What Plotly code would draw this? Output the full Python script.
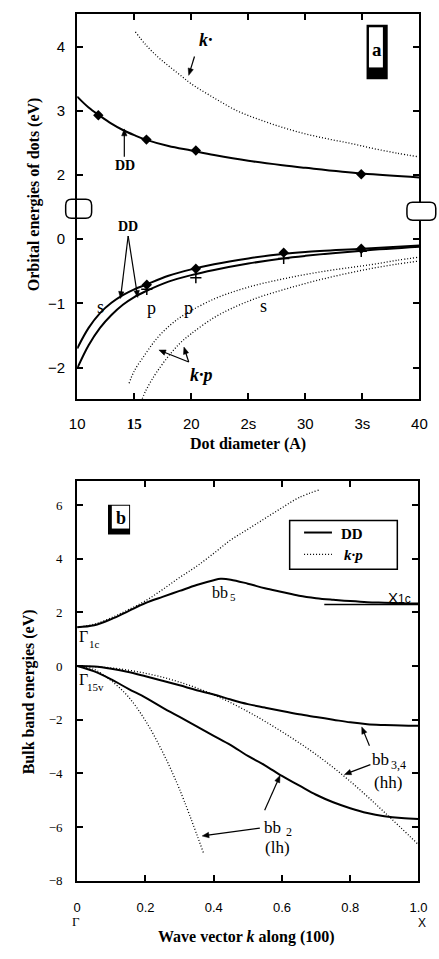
import math
import plotly.graph_objects as go

W, H = 439, 959
SERIF = "Liberation Serif, Times New Roman, serif"
SANS = "Liberation Sans Narrow, Liberation Sans, Arial, sans-serif"

# ---------------- Panel a data ----------------
a_x_ticks = [10, 15, 20, 25, 30, 35, 40]
a_x_ticktext = ["10", "<span style='font-family:Liberation Serif'><b>15</b></span>", "20", "2s", "30", "3s", "40"]

dd_cond_x = [10, 11, 12, 13, 14, 15, 16, 18, 20, 22, 25, 28, 30, 35, 40]
dd_cond_y = [3.22, 3.05, 2.92, 2.80, 2.70, 2.62, 2.55, 2.45, 2.38, 2.31, 2.22, 2.15, 2.11, 2.02, 1.96]
dd_cond_pts_x = [11.85, 16.07, 20.4, 34.9]
dd_cond_pts_y = [2.93, 2.55, 2.38, 2.01]

kp_cond_x = [15.1, 16, 17, 18, 19, 20, 22, 24, 26, 28, 30, 32, 34, 36, 38, 40]
kp_cond_y = [4.23, 4.03, 3.85, 3.70, 3.56, 3.42, 3.20, 3.00, 2.86, 2.74, 2.64, 2.56, 2.49, 2.41, 2.34, 2.28]

dd_s_x = [10, 11, 12, 13, 14, 15, 16, 18, 20, 22, 25, 28, 30, 35, 40]
dd_s_y = [-1.70, -1.38, -1.15, -0.99, -0.87, -0.78, -0.71, -0.57, -0.47, -0.39, -0.30, -0.23, -0.20, -0.15, -0.10]
dd_p_x = [10, 11, 12, 13, 14, 15, 16, 18, 20, 22, 25, 28, 30, 35, 40]
dd_p_y = [-2.01, -1.65, -1.38, -1.18, -1.02, -0.90, -0.81, -0.66, -0.56, -0.48, -0.38, -0.30, -0.26, -0.18, -0.12]
dd_s_pts_x = [16.1, 20.4, 28.1, 34.9]
dd_s_pts_y = [-0.71, -0.46, -0.21, -0.15]
dd_p_pts_x = [16.1, 20.4, 28.1, 34.9]
dd_p_pts_y = [-0.78, -0.60, -0.30, -0.19]

kp_a_x = [14.55, 15, 16, 17, 18, 19, 20, 22, 24, 26, 28, 30, 32, 34, 36, 38, 40]
kp_a_y = [-2.24, -2.05, -1.78, -1.54, -1.36, -1.22, -1.11, -0.93, -0.80, -0.70, -0.62, -0.55, -0.49, -0.44, -0.39, -0.33, -0.28]
kp_b_x = [15.7, 16, 16.5, 17, 18, 19, 20, 22, 24, 26, 28, 30, 32, 34, 36, 38, 40]
kp_b_y = [-2.48, -2.36, -2.20, -2.06, -1.82, -1.62, -1.47, -1.22, -1.04, -0.90, -0.79, -0.69, -0.60, -0.52, -0.45, -0.39, -0.34]

# ---------------- Panel b data ----------------
b_x_ticks = [0, 0.2, 0.4, 0.6, 0.8, 1.0]
b_x_ticktext = ["0", "0.2", "0.4", "0.6", "0.8", "1.0"]
b_y_ticks = [-8, -6, -4, -2, 0, 2, 4, 6]
legend_names = ["<b>DD</b>", "<b><i>k·p</i></b>"]

bb_dd_c_k = [0, 0.05, 0.1, 0.15, 0.2, 0.25, 0.3, 0.35, 0.4, 0.42, 0.45, 0.5, 0.55, 0.6, 0.65, 0.7, 0.75, 0.8, 0.85, 0.9, 0.95, 1.0]
bb_dd_c_e = [1.45, 1.52, 1.75, 2.05, 2.35, 2.58, 2.80, 3.02, 3.20, 3.25, 3.22, 3.07, 2.90, 2.76, 2.62, 2.53, 2.47, 2.42, 2.38, 2.36, 2.34, 2.33]
bb_dd_x1c_k = [0.724, 1.0]
bb_dd_x1c_e = [2.29, 2.29]
bb_kp_c_k = [0, 0.05, 0.1, 0.15, 0.2, 0.25, 0.3, 0.35, 0.4, 0.45, 0.5, 0.55, 0.6, 0.65, 0.71]
bb_kp_c_e = [1.45, 1.56, 1.80, 2.10, 2.43, 2.85, 3.30, 3.72, 4.20, 4.70, 5.10, 5.50, 5.90, 6.28, 6.57]

bb_dd_hh_k = [0, 0.05, 0.1, 0.15, 0.2, 0.25, 0.3, 0.35, 0.4, 0.45, 0.5, 0.55, 0.6, 0.65, 0.7, 0.75, 0.8, 0.85, 0.9, 0.95, 1.0]
bb_dd_hh_e = [0, -0.02, -0.10, -0.22, -0.38, -0.55, -0.72, -0.90, -1.06, -1.25, -1.42, -1.55, -1.68, -1.80, -1.90, -2.00, -2.10, -2.17, -2.20, -2.22, -2.23]
bb_dd_lh_k = [0, 0.05, 0.1, 0.15, 0.2, 0.25, 0.3, 0.35, 0.4, 0.45, 0.5, 0.55, 0.6, 0.65, 0.7, 0.75, 0.8, 0.85, 0.9, 0.95, 1.0]
bb_dd_lh_e = [0, -0.20, -0.50, -0.85, -1.18, -1.55, -1.90, -2.25, -2.60, -2.95, -3.35, -3.70, -4.10, -4.45, -4.80, -5.08, -5.30, -5.48, -5.60, -5.67, -5.70]
bb_kp_hh_k = [0, 0.1, 0.2, 0.3, 0.4, 0.5, 0.6, 0.7, 0.8, 0.9, 1.0]
bb_kp_hh_e = [0, -0.07, -0.27, -0.60, -1.07, -1.70, -2.45, -3.30, -4.30, -5.45, -6.66]
bb_kp_lh_k = [0, 0.05, 0.1, 0.15, 0.2, 0.25, 0.3, 0.37]
bb_kp_lh_e = [0, -0.13, -0.55, -1.15, -2.04, -3.20, -4.60, -6.97]


def PX(x):
    return x / W


def PY(y):
    return 1 - y / H


fig = go.Figure()
solid = dict(color="black", width=2)
dotted = dict(color="black", width=1.3, dash="1px,2px")

# panel a upper
fig.add_trace(go.Scatter(x=dd_cond_x, y=dd_cond_y, mode="lines", line=dict(solid, shape="spline"), xaxis="x2", yaxis="y", showlegend=False))
fig.add_trace(go.Scatter(x=dd_cond_pts_x, y=dd_cond_pts_y, mode="markers", marker=dict(symbol="diamond", size=8, color="black"), xaxis="x2", yaxis="y", showlegend=False))
fig.add_trace(go.Scatter(x=kp_cond_x, y=kp_cond_y, mode="lines", line=dict(dotted, shape="spline"), xaxis="x2", yaxis="y", showlegend=False))
# panel a lower
fig.add_trace(go.Scatter(x=dd_s_x, y=dd_s_y, mode="lines", line=dict(solid, shape="spline"), xaxis="x", yaxis="y2", showlegend=False))
fig.add_trace(go.Scatter(x=dd_p_x, y=dd_p_y, mode="lines", line=dict(solid, shape="spline"), xaxis="x", yaxis="y2", showlegend=False))
fig.add_trace(go.Scatter(x=dd_s_pts_x, y=dd_s_pts_y, mode="markers", marker=dict(symbol="diamond", size=8, color="black"), xaxis="x", yaxis="y2", showlegend=False))
fig.add_trace(go.Scatter(x=dd_p_pts_x, y=dd_p_pts_y, mode="markers", marker=dict(symbol="cross-thin", size=8, line=dict(color="black", width=1.5)), xaxis="x", yaxis="y2", showlegend=False))
fig.add_trace(go.Scatter(x=kp_a_x, y=kp_a_y, mode="lines", line=dict(dotted, shape="spline"), xaxis="x", yaxis="y2", showlegend=False))
fig.add_trace(go.Scatter(x=kp_b_x, y=kp_b_y, mode="lines", line=dict(dotted, shape="spline"), xaxis="x", yaxis="y2", showlegend=False))

# panel b
fig.add_trace(go.Scatter(x=bb_dd_c_k, y=bb_dd_c_e, mode="lines", line=dict(solid, shape="spline"), xaxis="x3", yaxis="y3", name="DD", showlegend=False))
fig.add_trace(go.Scatter(x=bb_kp_c_k, y=bb_kp_c_e, mode="lines", line=dict(dotted, shape="spline"), xaxis="x3", yaxis="y3", name="k·p", showlegend=False))
fig.add_trace(go.Scatter(x=bb_dd_x1c_k, y=bb_dd_x1c_e, mode="lines", line=dict(color="black", width=1.5), xaxis="x3", yaxis="y3", showlegend=False))
fig.add_trace(go.Scatter(x=bb_dd_hh_k, y=bb_dd_hh_e, mode="lines", line=dict(solid, shape="spline"), xaxis="x3", yaxis="y3", showlegend=False))
fig.add_trace(go.Scatter(x=bb_dd_lh_k, y=bb_dd_lh_e, mode="lines", line=dict(solid, shape="spline"), xaxis="x3", yaxis="y3", showlegend=False))
fig.add_trace(go.Scatter(x=bb_kp_hh_k, y=bb_kp_hh_e, mode="lines", line=dict(dotted, shape="spline"), xaxis="x3", yaxis="y3", showlegend=False))
fig.add_trace(go.Scatter(x=bb_kp_lh_k, y=bb_kp_lh_e, mode="lines", line=dict(dotted, shape="spline"), xaxis="x3", yaxis="y3", showlegend=False))

axcommon = dict(showgrid=False, zeroline=False, showline=True, linecolor="black", linewidth=2,
                ticks="inside", tickcolor="black", tickwidth=1.5, ticklen=6)

a_dom_x = [PX(72), PX(428)]
fig.update_layout(
    width=W, height=H, margin=dict(l=0, r=0, t=0, b=0),
    paper_bgcolor="white", plot_bgcolor="white", showlegend=False,
    xaxis=dict(axcommon, domain=a_dom_x, anchor="y2", range=[10, 40], tickmode="array",
               tickvals=a_x_ticks, ticktext=a_x_ticktext, ticklabelstandoff=10,
               tickfont=dict(family=SANS, size=15, color="black")),
    xaxis2=dict(axcommon, domain=a_dom_x, anchor="y", side="top", range=[10, 40], matches="x",
                tickmode="array", tickvals=a_x_ticks, showticklabels=False),
    yaxis=dict(axcommon, domain=[PY(210), PY(14)], anchor="x2", range=[1.48, 4.51], mirror="ticks",
               tickmode="array", tickvals=[2, 3, 4], ticklabelstandoff=7,
               tickfont=dict(family=SANS, size=15, color="black")),
    yaxis2=dict(axcommon, domain=[PY(402), PY(210)], anchor="x", range=[-2.48, 0.48], mirror="ticks",
                tickmode="array", tickvals=[-2, -1, 0], ticklabelstandoff=7,
                tickfont=dict(family=SANS, size=15, color="black")),
    xaxis3=dict(axcommon, domain=[PX(72), PX(427)], anchor="y3", range=[0, 1], mirror="ticks",
                tickmode="array", tickvals=b_x_ticks, ticktext=b_x_ticktext, ticklabelstandoff=14,
                tickfont=dict(family=SANS, size=13, color="black")),
    yaxis3=dict(axcommon, domain=[PY(888), PY(485)], anchor="x3", range=[-8, 6.9], mirror="ticks",
                tickmode="array", tickvals=b_y_ticks, ticklabelstandoff=10,
                tickfont=dict(family=SERIF, size=13, color="black")),
)

ann = []


def text(t, x, y, size=15, family=SERIF, angle=0):
    ann.append(dict(text=t, x=PX(x), y=PY(y), xref="paper", yref="paper", showarrow=False,
                    font=dict(family=family, size=size, color="black"), textangle=angle,
                    xanchor="center", yanchor="middle"))


shapes = []


def arrow(hx, hy, tx, ty, L=7, hw=2.8):
    dx, dy = hx - tx, hy - ty
    d = math.hypot(dx, dy)
    ux, uy = dx / d, dy / d
    bx, by = hx - ux * L, hy - uy * L
    nx, ny = -uy, ux
    shapes.append(dict(type="line", xref="paper", yref="paper", x0=PX(tx), y0=PY(ty), x1=PX(bx + ux), y1=PY(by + uy),
                       line=dict(color="black", width=1.2), layer="above"))
    p1 = (bx + nx * hw, by + ny * hw)
    p2 = (bx - nx * hw, by - ny * hw)
    shapes.append(dict(type="path", xref="paper", yref="paper",
                       path=f"M {PX(hx)},{PY(hy)} L {PX(p1[0])},{PY(p1[1])} L {PX(p2[0])},{PY(p2[1])} Z",
                       fillcolor="black", line=dict(color="black", width=0.5), layer="above"))


# axis titles
text("<b>Orbital energies of dots (eV)</b>", 27, 196, size=16, angle=-90)
text("<b>Dot diameter (A)</b>", 250, 448, size=16)
text("<b>Bulk band energies (eV)</b>", 22, 698, size=16, angle=-90)
text("<b>Wave vector <i>k</i> along (100)</b>", 248, 945, size=16)

# panel a labels
text("<b><i>k·</i></b>", 206, 40, size=18)
arrow(188, 76, 194, 57)
text("<b>DD</b>", 122, 167, size=14)
arrow(121, 130, 121, 158)
text("<b>DD</b>", 125, 228, size=14)
arrow(117, 301, 125, 238)
arrow(135, 300, 125, 238)
text("s", 96, 310, size=18)
text("p", 149, 311, size=18)
text("p", 188, 311, size=18)
text("s", 266, 309, size=18)
text("<b><i>k·p</i></b>", 201, 378, size=18)
arrow(157, 353, 188, 365)
arrow(183, 350, 188, 365)
text("<b>a</b>", 384, 50, size=19)

# panel b labels (subscripts drawn as separate smaller texts)
text("<b>b</b>", 118, 522, size=18)
text("Γ", 79, 642, size=16)
text("1c", 90, 649, size=11)
text("Γ", 79, 685, size=16)
text("15v", 91, 693, size=11)
text("bb", 221, 597, size=16)
text("5", 234, 602, size=11)
text("X", 400, 603, size=15, family=SANS)
text("1c", 412, 604, size=12, family=SANS)
text("bb", 387, 766, size=17)
text("3,4", 406, 771, size=12)
text("(hh)", 395, 789, size=17)
text("bb", 275, 834, size=17)
text("2", 292, 839, size=12)
text("(lh)", 280, 855, size=17)
text("Γ", 71, 929, size=13)
text("X", 431, 931, size=12, family=SANS)
arrow(368, 733, 376, 752)
arrow(350, 781, 377, 771)
arrow(283, 782, 267, 817)
arrow(202, 843, 262, 835)

# legend box (panel b)
text(legend_names[0], 358, 538, size=15)
text(legend_names[1], 359, 560, size=15)
shapes += [
    dict(type="rect", xref="paper", yref="paper", x0=PX(293), x1=PX(405), y0=PY(574), y1=PY(525),
         fillcolor="white", line=dict(color="black", width=1.5), layer="above"),
    dict(type="line", xref="paper", yref="paper", x0=PX(308), x1=PX(337), y0=PY(537), y1=PY(537),
         line=solid, layer="above"),
    dict(type="line", xref="paper", yref="paper", x0=PX(308), x1=PX(337), y0=PY(559), y1=PY(559),
         line=dotted, layer="above"),
]

fig.update_layout(annotations=ann)


def rrect(x0, y0, x1, y1, r):
    X = lambda v: PX(v)
    Y = lambda v: PY(v)
    return (f"M {X(x0+r)},{Y(y0)} L {X(x1-r)},{Y(y0)} Q {X(x1)},{Y(y0)} {X(x1)},{Y(y0+r)} "
            f"L {X(x1)},{Y(y1-r)} Q {X(x1)},{Y(y1)} {X(x1-r)},{Y(y1)} L {X(x0+r)},{Y(y1)} "
            f"Q {X(x0)},{Y(y1)} {X(x0)},{Y(y1-r)} L {X(x0)},{Y(y0+r)} Q {X(x0)},{Y(y0)} {X(x0+r)},{Y(y0)} Z")


shapes += [
    dict(type="path", path=rrect(60, 201, 87, 220, 6), xref="paper", yref="paper",
         line=dict(color="black", width=1.5), fillcolor="rgba(0,0,0,0)", layer="above"),
    dict(type="path", path=rrect(415, 204, 445, 222, 6), xref="paper", yref="paper",
         line=dict(color="black", width=1.5), fillcolor="white", layer="above"),
    dict(type="rect", x0=PX(373), x1=PX(395), y0=PY(80), y1=PY(25), xref="paper", yref="paper",
         fillcolor="black", line=dict(width=0), layer="below"),
    dict(type="rect", x0=PX(375.5), x1=PX(390), y0=PY(68), y1=PY(27.5), xref="paper", yref="paper",
         fillcolor="white", line=dict(width=0), layer="below"),
    dict(type="rect", x0=PX(104), x1=PX(127), y0=PY(539), y1=PY(509), xref="paper", yref="paper",
         fillcolor="black", line=dict(width=0), layer="below"),
    dict(type="rect", x0=PX(108), x1=PX(126), y0=PY(533), y1=PY(510), xref="paper", yref="paper",
         fillcolor="white", line=dict(width=0), layer="below"),
]
fig.update_layout(shapes=shapes)

fig.write_html("out.html")
